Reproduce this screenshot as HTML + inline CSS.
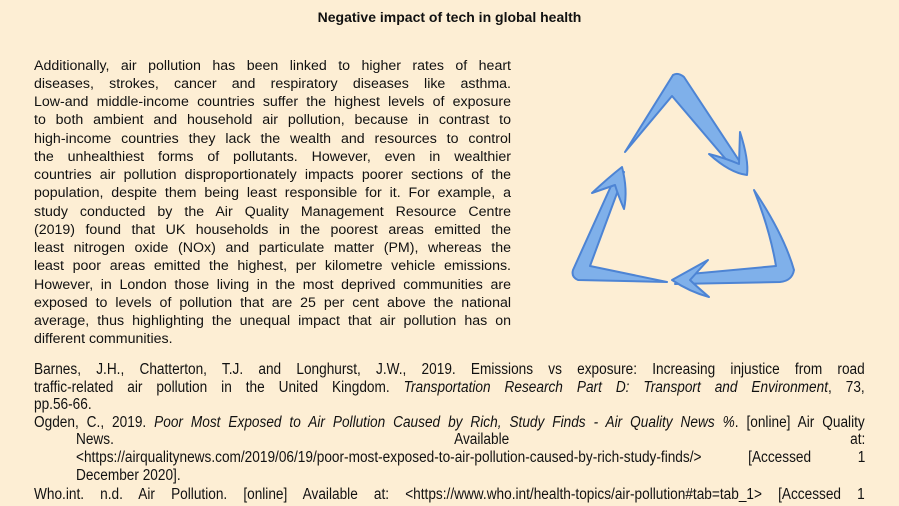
<!DOCTYPE html>
<html><head><meta charset="utf-8"><style>
body{margin:0;width:899px;height:506px;background:#fdeed4;position:relative;overflow:hidden;font-family:"Liberation Sans",sans-serif;color:#111}
.t{position:absolute;left:0;width:899px;top:9px;text-align:center;font-weight:bold;font-size:14px}
.l{position:absolute;left:34px;width:477px;font-size:14.2px;text-align:justify;text-align-last:justify;white-space:nowrap;line-height:18px}
.l.e{text-align-last:left}
.r{position:absolute;left:34px;width:944px;font-size:15.5px;text-align:justify;text-align-last:justify;line-height:18px;transform:scaleX(0.88);transform-origin:0 0;white-space:nowrap}
.r.i{left:76px;width:897px}
.r.e{text-align-last:left}
</style></head><body>
<div class="t">Negative impact of tech in global health</div>
<div class="l" style="top:57px">Additionally, air pollution has been linked to higher rates of heart</div>
<div class="l" style="top:75px">diseases, strokes, cancer and respiratory diseases like asthma.</div>
<div class="l" style="top:93px">Low-and middle-income countries suffer the highest levels of exposure</div>
<div class="l" style="top:111px">to both ambient and household air pollution, because in contrast to</div>
<div class="l" style="top:130px">high-income countries they lack the wealth and resources to control</div>
<div class="l" style="top:148px">the unhealthiest forms of pollutants. However, even in wealthier</div>
<div class="l" style="top:166px">countries air pollution disproportionately impacts poorer sections of the</div>
<div class="l" style="top:184px">population, despite them being least responsible for it. For example, a</div>
<div class="l" style="top:203px">study conducted by the Air Quality Management Resource Centre</div>
<div class="l" style="top:221px">(2019) found that UK households in the poorest areas emitted the</div>
<div class="l" style="top:239px">least nitrogen oxide (NOx) and particulate matter (PM), whereas the</div>
<div class="l" style="top:257px">least poor areas emitted the highest, per kilometre vehicle emissions.</div>
<div class="l" style="top:276px">However, in London those living in the most deprived communities are</div>
<div class="l" style="top:294px">exposed to levels of pollution that are 25 per cent above the national</div>
<div class="l" style="top:312px">average, thus highlighting the unequal impact that air pollution has on</div>
<div class="l e" style="top:330px">different communities.</div>

<div class="r" style="top:361px">Barnes, J.H., Chatterton, T.J. and Longhurst, J.W., 2019. Emissions vs exposure: Increasing injustice from road</div>
<div class="r" style="top:379px">traffic-related air pollution in the United Kingdom. <i>Transportation Research Part D: Transport and Environment</i>, 73,</div>
<div class="r e" style="top:396px">pp.56-66.</div>
<div class="r" style="top:414px">Ogden, C., 2019. <i>Poor Most Exposed to Air Pollution Caused by Rich, Study Finds - Air Quality News %</i>. [online] Air Quality</div>
<div class="r i" style="top:431px">News. Available at:</div>
<div class="r i" style="top:449px">&lt;https://airqualitynews.com/2019/06/19/poor-most-exposed-to-air-pollution-caused-by-rich-study-finds/&gt; [Accessed 1</div>
<div class="r i e" style="top:467px">December 2020].</div>
<div class="r" style="top:486px">Who.int. n.d. Air Pollution. [online] Available at: &lt;https://www.who.int/health-topics/air-pollution#tab=tab_1&gt; [Accessed 1</div>

<svg style="position:absolute;left:0;top:0" width="899" height="506">
<g fill="#7fb0ea" stroke="#4d84d4" stroke-width="2" stroke-linejoin="round">
<path d="M625,152 L673,75 Q678,72 684,77 L742,165 L744,172 L735,170 L672,96 Z"/>
<path d="M740,132 Q749,160 747,175 Q730,173 709,154 Q725,158 739,164 Z"/>
<path d="M754,190 Q784,235 794,270 Q792,281 780,282 L675,284 L690,274 L776,266 Q770,230 754,190 Z"/>
<path d="M708,260 Q690,270 672,280 Q690,292 709,297 Q695,285 690,280 Z"/>
<path d="M667,282 L578,280 Q571,277 573,270 L616,175 L624,172 L620,185 L590,266 Z"/>
<path d="M592,193 Q608,178 622,167 Q628,190 624,209 Q618,195 615,185 Z"/>
</g>
</svg>
</body></html>
